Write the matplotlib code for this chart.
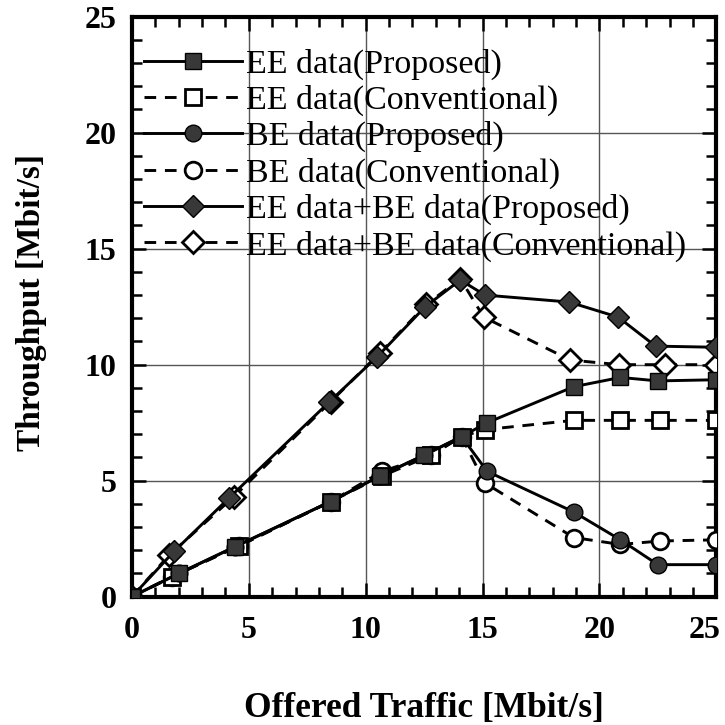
import matplotlib
matplotlib.use('Agg')
import matplotlib.pyplot as plt
from matplotlib.ticker import MultipleLocator, FuncFormatter

# Offered traffic [Mbit/s]
x_prop = [0, 2.0, 4.4, 8.5, 10.6, 12.5, 14.1, 15.2, 18.9, 20.9, 22.5, 25]
x_conv = [0, 1.7, 4.6, 8.5, 10.7, 12.8, 14.1, 15.1, 18.9, 20.9, 22.6, 25]
x_sum_prop = [0, 1.8, 4.15, 8.45, 10.5, 12.55, 14.05, 15.1, 18.7, 20.8, 22.4, 25]
x_sum_conv = [0, 1.6, 4.35, 8.5, 10.6, 12.6, 14.05, 15.05, 18.75, 20.85, 22.8, 25]

# Throughput [Mbit/s]
ee_prop = [0, 1.0, 2.15, 4.1, 5.2, 6.1, 6.9, 7.5, 9.05, 9.45, 9.3, 9.35]
ee_conv = [0, 0.85, 2.2, 4.1, 5.2, 6.1, 6.9, 7.2, 7.6, 7.6, 7.6, 7.6]
be_prop = [0, 1.0, 2.15, 4.1, 5.2, 6.1, 6.9, 5.4, 3.65, 2.45, 1.38, 1.38]
be_conv = [0, 0.85, 2.2, 4.1, 5.4, 6.1, 6.9, 4.9, 2.55, 2.25, 2.4, 2.45]
sum_prop = [0, 1.95, 4.25, 8.4, 10.35, 12.5, 13.65, 13.0, 12.7, 12.05, 10.8, 10.75]
sum_conv = [0, 1.8, 4.3, 8.4, 10.5, 12.6, 13.7, 12.05, 10.2, 10.0, 10.0, 10.0]

labels = ['EE data(Proposed)', 'EE data(Conventional)',
          'BE data(Proposed)', 'BE data(Conventional)',
          'EE data+BE data(Proposed)', 'EE data+BE data(Conventional)']

x_max = 25

plt.rcParams['font.family'] = ['Liberation Serif', 'DejaVu Serif']

fig = plt.figure(figsize=(7.25, 7.25), dpi=100)
ax = fig.add_axes([0.182, 0.177, 0.806, 0.80])

fill = '#383838'
dash = (0, (4, 3))
lw = 2.1
ms = 12

ax.plot(x_sum_conv, sum_conv, linestyle=dash, color='black', lw=lw, marker='D', ms=ms * 0.9,
        mfc='white', mec='black', mew=2, label=labels[5], zorder=3)
ax.plot(x_sum_prop, sum_prop, linestyle='-', color='black', lw=lw, marker='D', ms=ms * 0.9,
        mfc=fill, mec='black', mew=1, label=labels[4], zorder=4)
ax.plot(x_conv, be_conv, linestyle=dash, color='black', lw=lw, marker='o', ms=ms,
        mfc='white', mec='black', mew=2, label=labels[3], zorder=3)
ax.plot(x_prop, be_prop, linestyle='-', color='black', lw=lw, marker='o', ms=ms,
        mfc=fill, mec='black', mew=1, label=labels[2], zorder=4)
ax.plot(x_conv, ee_conv, linestyle=dash, color='black', lw=lw, marker='s', ms=ms,
        mfc='white', mec='black', mew=2, label=labels[1], zorder=3)
ax.plot(x_prop, ee_prop, linestyle='-', color='black', lw=lw, marker='s', ms=ms,
        mfc=fill, mec='black', mew=1, label=labels[0], zorder=5)

ax.set_xlim(0, x_max)
ax.set_ylim(0, 25)
ax.xaxis.set_major_locator(MultipleLocator(5))
ax.yaxis.set_major_locator(MultipleLocator(5))
ax.xaxis.set_minor_locator(MultipleLocator(1))
ax.yaxis.set_minor_locator(MultipleLocator(1))
# the last x label is drawn by hand so it stays inside the figure
ax.xaxis.set_major_formatter(FuncFormatter(lambda v, p: '' if v >= x_max else f'{v:g}'))
ax.grid(True, which='major', color='#555555', lw=1.0)
ax.set_axisbelow(True)

ax.tick_params(which='both', direction='in', top=True, right=True, width=1.8)
ax.tick_params(which='major', length=10, labelsize=23, pad=14)
ax.tick_params(axis='y', which='major', pad=11)
ax.tick_params(which='minor', length=7)
for lab in ax.get_xticklabels() + ax.get_yticklabels():
    lab.set_fontweight('bold')
for sp in ax.spines.values():
    sp.set_linewidth(3)

ax.annotate(f'{x_max:g}', xy=(x_max, 0), xycoords=('data', 'axes fraction'),
            xytext=(3, -14), textcoords='offset points', ha='right', va='top',
            fontsize=23, fontweight='bold')

ax.set_xlabel('Offered Traffic [Mbit/s]', fontsize=25.5, fontweight='bold')
ax.set_ylabel('Throughput [Mbit/s]', fontsize=24, fontweight='bold')
ax.xaxis.set_label_coords(0.5, -0.165)
ax.yaxis.set_label_coords(-0.146, 0.507)

handles, labs = ax.get_legend_handles_labels()
order = [5, 4, 3, 2, 1, 0]
ax.legend([handles[i] for i in order], [labs[i] for i in order],
          loc='upper left', bbox_to_anchor=(0.02, 0.945), frameon=False,
          fontsize=24.5, handlelength=2.9, handletextpad=0.1, labelspacing=0.15,
          borderaxespad=0, borderpad=0)

fig.savefig('out.png', dpi=100)
